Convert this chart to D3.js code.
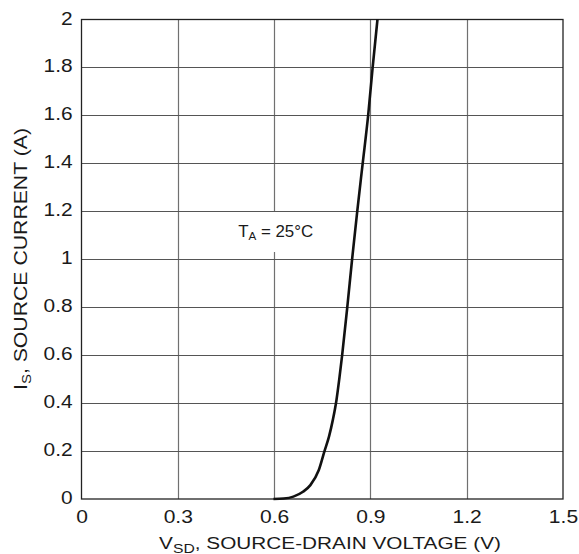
<!DOCTYPE html>
<html><head><meta charset="utf-8">
<script src="https://cdn.jsdelivr.net/npm/d3@7"></script>
<style>body{margin:0;background:#fff}svg{display:block}text{font-family:"Liberation Sans",Arial,sans-serif;fill:#1a1a1a}</style>
</head><body><svg id="c" width="579" height="554"></svg>
<script>
const xTicks = [0, 0.3, 0.6, 0.9, 1.2, 1.5];
const yTicks = [0, 0.2, 0.4, 0.6, 0.8, 1, 1.2, 1.4, 1.6, 1.8, 2];
const vsd = [0.598, 0.63, 0.66, 0.69, 0.713, 0.739, 0.757, 0.771, 0.783, 0.794, 0.803, 0.812, 0.828, 0.843, 0.859, 0.876, 0.893, 0.907, 0.922];
const is  = [0.0, 0.002, 0.01, 0.03, 0.058, 0.12, 0.2, 0.26, 0.33, 0.41, 0.5, 0.6, 0.8, 1.0, 1.2, 1.4, 1.6, 1.8, 2.0];

const svg = d3.select("#c");
const L = 81.5, R = 563, T = 19.5, B = 499;
const x = d3.scaleLinear().domain([0, 1.5]).range([L, R]);
const y = d3.scaleLinear().domain([0, 2]).range([B, T]);
const FONT = '"Liberation Sans",Arial,sans-serif';

// grid
const g = svg.append("g");
g.selectAll(".vg").data(xTicks.slice(1, -1)).join("line")
  .attr("x1", d => Math.round(x(d)) + 0.5).attr("x2", d => Math.round(x(d)) + 0.5)
  .attr("y1", T).attr("y2", B).attr("stroke", "#707070").attr("stroke-width", 1.2);
g.selectAll(".hg").data(yTicks.slice(1, -1)).join("line")
  .attr("y1", d => Math.round(y(d)) + 0.5).attr("y2", d => Math.round(y(d)) + 0.5)
  .attr("x1", L).attr("x2", R).attr("stroke", "#555").attr("stroke-width", 1.2);

// label box (white, covering grid)
svg.append("rect").attr("x", 217).attr("y", 212).attr("width", 129).attr("height", 40).attr("fill", "#fff");

// frame
svg.append("rect").attr("x", L).attr("y", T).attr("width", R - L).attr("height", B - T)
  .attr("fill", "none").attr("stroke", "#222").attr("stroke-width", 1.3);

// curve
const pts = vsd.map((v, i) => [v, is[i]]);
svg.append("path").datum(pts)
  .attr("d", d3.line().x(d => x(d[0])).y(d => y(d[1])).curve(d3.curveMonotoneX))
  .attr("fill", "none").attr("stroke", "#111").attr("stroke-width", 2.6);

// axes tick labels
const xa = svg.append("g").attr("transform", `translate(0,${B})`)
  .call(d3.axisBottom(x).tickValues(xTicks).tickSize(0).tickPadding(0).tickFormat(d => d3.format("")(d)));
xa.select(".domain").remove();
xa.selectAll("text").attr("font-size", 18).attr("font-family", FONT).attr("fill", "#1a1a1a")
  .attr("dy", null).attr("y", 24.5).attr("transform", "scale(1.17,1)");

const ya = svg.append("g").attr("transform", `translate(${L},0)`)
  .call(d3.axisLeft(y).tickValues(yTicks).tickSize(0).tickPadding(0).tickFormat(d => d3.format("")(d)));
ya.select(".domain").remove();
ya.selectAll("text").attr("font-size", 18).attr("font-family", FONT).attr("fill", "#1a1a1a")
  .attr("dy", null).attr("x", -7.7).attr("y", 4.5).attr("transform", "scale(1.16,1)");

function fit(sel, targetW, tx, ty, rot) {
  const w = sel.node().getBBox().width;
  const s = targetW / w;
  sel.attr("transform", `translate(${tx},${ty})` + (rot ? ` rotate(${rot})` : "") + ` scale(${s},1)`);
}

// annotation
const ann = svg.append("text").attr("text-anchor", "middle").attr("font-size", 16);
ann.append("tspan").text("T");
ann.append("tspan").attr("font-size", 11).attr("dy", 3).text("A");
ann.append("tspan").attr("dy", -3).text(" = 25°C");
fit(ann, 75, 275.7, 236.7);

// x title
const xt = svg.append("text").attr("text-anchor", "middle").attr("font-size", 16.5);
xt.append("tspan").text("V");
xt.append("tspan").attr("font-size", 12.5).attr("dy", 3.5).text("SD");
xt.append("tspan").attr("dy", -3.5).text(", SOURCE-DRAIN VOLTAGE (V)");
fit(xt, 342, 330, 549);

// y title
const yt = svg.append("text").attr("text-anchor", "middle").attr("font-size", 18.5);
yt.append("tspan").text("I");
yt.append("tspan").attr("font-size", 13).attr("dy", 4).text("S");
yt.append("tspan").attr("dy", -4).text(", SOURCE CURRENT (A)");
fit(yt, 262, 27, 259, -90);
</script></body></html>
